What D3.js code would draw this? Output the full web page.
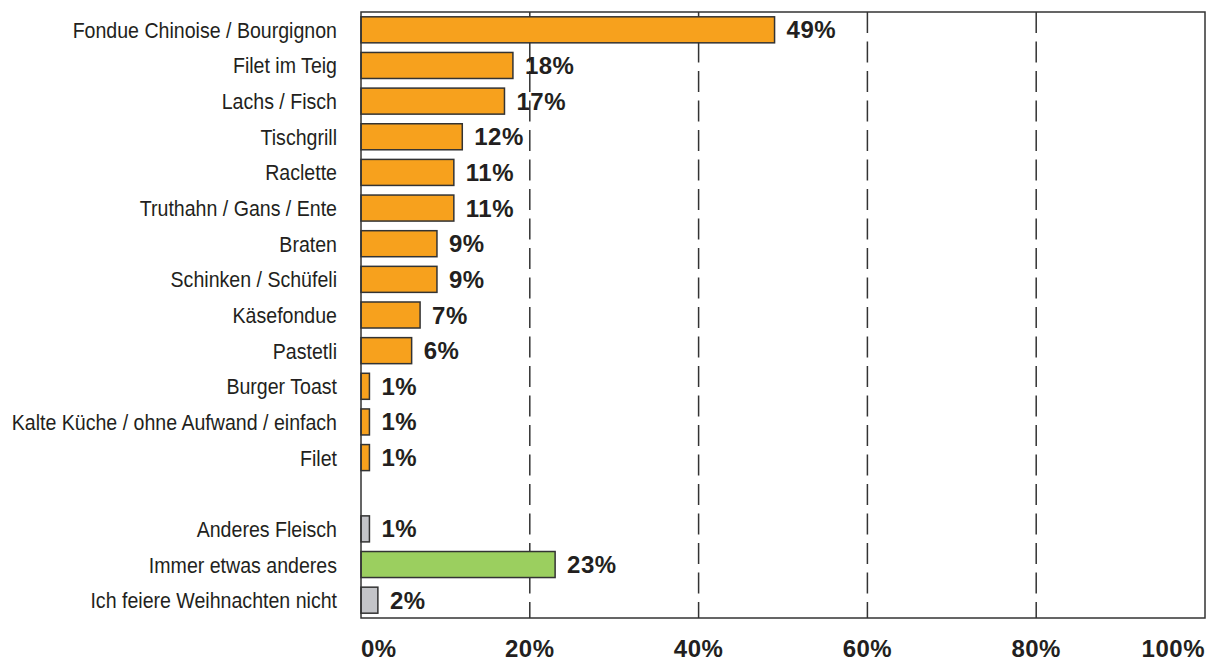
<!DOCTYPE html>
<html>
<head>
<meta charset="utf-8">
<script src="https://cdn.jsdelivr.net/npm/d3@7"></script>
<style>
    body { margin: 0; background: #fff; }
    svg text { font-family: "Liberation Sans", Arial, sans-serif; fill: #231f20; }
    .cat { font-size: 22px; }
    .val, .tick-label { font-size: 24px; font-weight: bold; }
</style>
</head>
<body>
<svg id="chart" width="1211" height="661"></svg>
<script>
    // categories top to bottom, "" is the empty row
    const categories = [
        "Fondue Chinoise / Bourgignon", "Filet im Teig", "Lachs / Fisch", "Tischgrill",
        "Raclette", "Truthahn / Gans / Ente", "Braten", "Schinken / Schüfeli",
        "Käsefondue", "Pastetli", "Burger Toast", "Kalte Küche / ohne Aufwand / einfach",
        "Filet", "", "Anderes Fleisch", "Immer etwas anderes", "Ich feiere Weihnachten nicht"
    ];
    const values = [49, 18, 17, 12, 11, 11, 9, 9, 7, 6, 1, 1, 1, null, 1, 23, 2];
    const groups = ["meat", "meat", "meat", "meat", "meat", "meat", "meat", "meat",
        "meat", "meat", "meat", "meat", "meat", "gap", "other", "varied", "other"];
    const ticks = [0, 20, 40, 60, 80, 100];

    const colors = {meat: "#f7a11d", varied: "#9bcf5f", other: "#c3c4c8"};

    const plotLeft = 361, plotRight = 1205, plotTop = 12, plotBottom = 618;
    const svg = d3.select("#chart");

    const x = d3.scaleLinear().domain([0, 100]).range([plotLeft, plotRight]);
    const y = d3.scaleBand()
        .domain(d3.range(categories.length))
        .range([plotTop, plotBottom])
        .paddingInner(0.27)
        .paddingOuter(0.135);

    // dashed gridlines (behind bars)
    svg.append("g")
        .selectAll("line")
        .data(ticks.slice(1, -1))
        .join("line")
        .attr("x1", d => x(d))
        .attr("x2", d => x(d))
        .attr("y1", plotTop)
        .attr("y2", plotBottom)
        .attr("stroke", "#333")
        .attr("stroke-width", 1.5)
        .attr("stroke-dasharray", "21,8.5");

    const rows = categories.map((c, i) => ({cat: c, value: values[i], group: groups[i], i: i}))
        .filter(d => d.value !== null);

    svg.append("g")
        .selectAll("rect")
        .data(rows)
        .join("rect")
        .attr("x", x(0))
        .attr("y", d => y(d.i))
        .attr("width", d => x(d.value) - x(0))
        .attr("height", y.bandwidth())
        .attr("fill", d => colors[d.group])
        .attr("stroke", "#333")
        .attr("stroke-width", 1.5);

    svg.append("g")
        .selectAll("text")
        .data(rows)
        .join("text")
        .attr("class", "val")
        .attr("x", d => x(d.value) + 12)
        .attr("y", d => y(d.i) + y.bandwidth() / 2 + 8.5)
        .style("letter-spacing", "0.5px")
        .text(d => d.value + "%");

    // category labels, a bit condensed
    svg.append("g")
        .selectAll("text")
        .data(rows)
        .join("text")
        .attr("class", "cat")
        .attr("text-anchor", "end")
        .attr("transform", d => `translate(${plotLeft - 24},${y(d.i) + y.bandwidth() / 2 + 8}) scale(0.89,1)`)
        .text(d => d.cat);

    // frame
    svg.append("rect")
        .attr("x", plotLeft)
        .attr("y", plotTop)
        .attr("width", plotRight - plotLeft)
        .attr("height", plotBottom - plotTop)
        .attr("fill", "none")
        .attr("stroke", "#333")
        .attr("stroke-width", 1.5);

    svg.append("g")
        .selectAll("text")
        .data(ticks)
        .join("text")
        .attr("class", "tick-label")
        .attr("x", d => x(d))
        .attr("y", 657)
        .attr("text-anchor", (d, i) => i === 0 ? "start" : (i === ticks.length - 1 ? "end" : "middle"))
        .style("letter-spacing", "0.5px")
        .text(d => d + "%");
</script>
</body>
</html>
